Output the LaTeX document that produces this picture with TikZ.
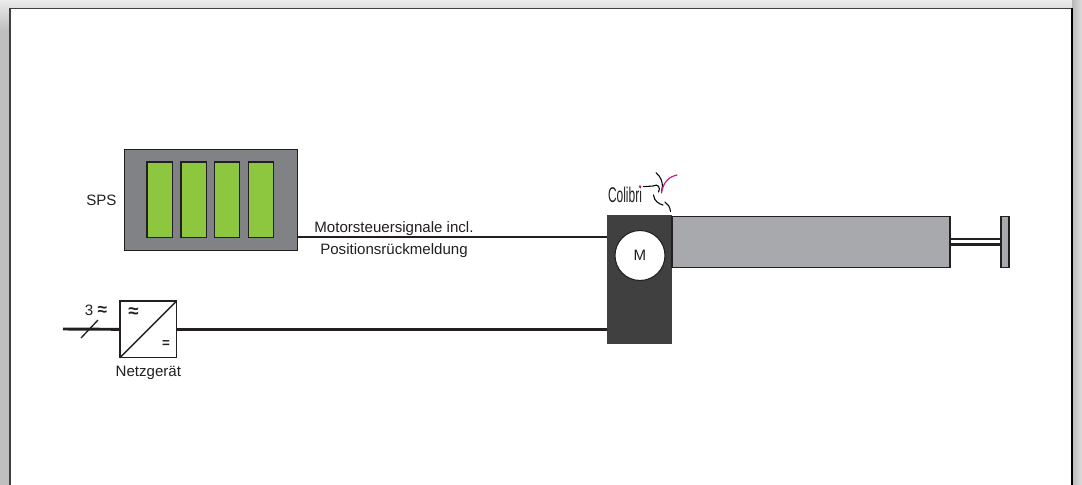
\documentclass[tikz,border=0pt]{standalone}
\usepackage{fontspec}
\setmainfont{Liberation Sans}
\usetikzlibrary{positioning}
\definecolor{plcgrey}{RGB}{128,130,133}
\definecolor{plcgreen}{RGB}{141,198,63}
\definecolor{drivegrey}{RGB}{64,64,65}
\definecolor{cylgrey}{RGB}{167,169,172}
\definecolor{linegrey}{RGB}{35,31,32}
\definecolor{birdpink}{RGB}{200,30,140}

\begin{document}
\begin{tikzpicture}[x=0.75pt, y=-0.75pt, every node/.style = {inner sep=0pt, outer sep=0pt},
    box/.style = {draw=linegrey, line width=0.9pt, anchor=north west},
    slot/.style = {box, fill=plcgreen, minimum width=19pt, minimum height=56.5pt},
    wire/.style = {linegrey, line width=2.2pt},
    thinwire/.style = {linegrey, line width=1pt},
    label/.style = {font=\fontsize{11.3}{13}\selectfont, text=linegrey},
    sign/.style = {font=\fontsize{10}{12}\selectfont\bfseries, text=linegrey},
    bird/.style = {black, line width=0.8pt, line cap=round}]
    \useasboundingbox (0,0) rectangle (1082,485);
    \shade[top color=gray!15, bottom color=gray!50] (0,0) rectangle (1082,30);
    \fill[gray!50] (0,30) rectangle (1082,485);
    \shade[left color=gray!55, right color=gray!25] (1072,0) rectangle (1082,485);
    \fill[white] (10,8) rectangle (1072,485);
    \draw[drivegrey, line width=1pt] (10,485) -- (10,8.5) -- (1072,8.5);
    \draw[black, line width=1pt] (1072,8.5) -- (1072,485);

    \node[box, fill=plcgrey, minimum width=129.5pt, minimum height=75.5pt] (sps) at (124.5,149.5) {};
    \node[slot] (slotA) at (147,162) {};
    \node[slot] (slotB) at (181,162) {};
    \node[slot] (slotC) at (214.5,162) {};
    \node[slot] (slotD) at (248.5,162) {};
    \node[label, left=6pt of sps.west] (spstext) {SPS};

    \node[anchor=north west, fill=drivegrey, minimum width=48.75pt, minimum height=96.75pt] (drive) at (607,215) {};
    \node[box, fill=cylgrey, minimum width=208.5pt, minimum height=38pt] (cyl) at (672,216.5) {};
    \node[box, fill=cylgrey, minimum width=6pt, minimum height=38pt] (plate) at (1001,216.5) {};
    \node[circle, draw=linegrey, fill=white, line width=0.8pt, minimum size=37.5pt, label] (motor) at (640,255.5) {M};

    \node[box, fill=white, minimum width=42.5pt, minimum height=42.5pt] (psu) at (120,301) {};
    \draw[thinwire] (psu.south west) -- (psu.north east);
    \node[sign, font=\fontsize{14}{16}\selectfont\bfseries] (psuac) at (133.5,313) {≈};
    \node[sign] (psudc) at (166,344) {=};
    \node[label, below=6pt of psu.south] (psutext) {Netzgerät};
    \coordinate (mains) at (63,329);
    \coordinate (tickA) at (81,338);
    \coordinate (tickB) at (98,320);
    \node[label, anchor=south] (phases) at (96,316) {3 {\fontsize{13}{13}\selectfont\bfseries ≈}};

    \draw[wire] (sps.east |- 0,237) -- (drive.west |- 0,237);
    \draw[wire] (psu.east) -- (drive.west |- psu.east);
    \draw[wire] (mains) -- (psu.west);
    \draw[thinwire] (tickA) -- (tickB);
    \draw[wire, line width=1.9pt] ([yshift=-2pt]cyl.east) -- ([yshift=-2pt]plate.west);
    \draw[wire, line width=1.9pt] ([yshift=2pt]cyl.east) -- ([yshift=2pt]plate.west);

    \node[label, anchor=base] (signalA) at (394,232) {Motorsteuersignale incl.};
    \node[label, anchor=base] (signalB) at (394,254) {Positionsrückmeldung};

    \node[text=linegrey] (colibri) at (625,195) {\scalebox{0.56}[1]{\fontsize{16}{18}\selectfont Colibri}};
    \fill[birdpink] (640,186.7) circle (1.1pt);
    \draw[bird] (643.5,186.7) -- (653,186) .. controls (658,183) and (661,188) .. (658.5,192);
    \draw[bird] (656,172.7) .. controls (661,177) and (664,183) .. (661.5,191);
    \draw[bird] (653.5,195) .. controls (654,201) and (659,204) .. (663,205);
    \draw[bird] (665,202) .. controls (668,204) and (670,207) .. (670.5,211.5);
    \draw[birdpink, line width=0.9pt, line cap=round] (661.5,193) .. controls (663,183) and (668,177) .. (677,175);
\end{tikzpicture}
\end{document}
